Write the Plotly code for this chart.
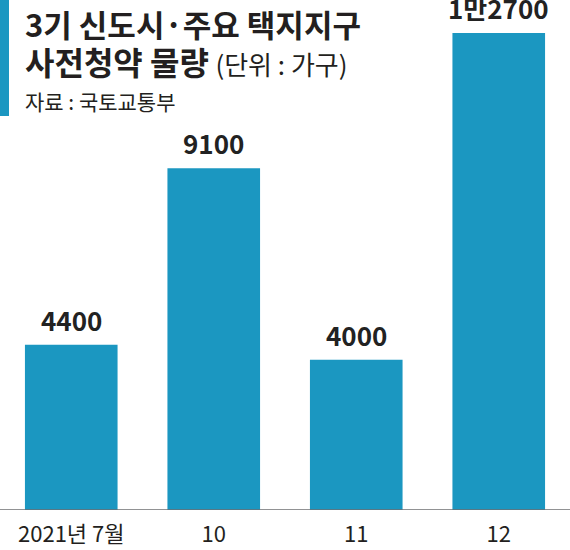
import plotly.graph_objects as go

categories = ["2021년 7월", "10", "11", "12"]
values = [4400, 9100, 4000, 12700]
value_labels = ["4400", "9100", "4000", "1만2700"]

BAR = "#1b97c1"
FONT = "Noto Sans CJK KR"
W, H = 570, 550
PLOT_H = 510

fig = go.Figure(go.Bar(
    x=categories, y=values, marker_color=BAR, width=0.65,
    marker_line_width=0, hoverinfo="skip"))

annotations = []
for i, (v, t) in enumerate(zip(values, value_labels)):
    annotations.append(dict(x=i, y=v, xref="x", yref="y", text=f"<b>{t}</b>",
                            showarrow=False, yanchor="bottom", yshift=5,
                            font=dict(family=FONT, size=26, color="#222222")))

def py(px):
    return 1 - px / PLOT_H

title_text = ("<span style='font-size:31px'><b>3기 신도시·주요 택지지구</b></span><br>"
              "<span style='font-size:32px'><b>사전청약 물량</b></span> "
              "<span style='font-size:26px'>(단위 : 가구)</span>")

annotations += [
    dict(x=23 / W, y=py(42), xref="paper", yref="paper", xanchor="left", yanchor="middle",
         text=title_text, showarrow=False, align="left",
         font=dict(family=FONT, size=29, color="#231f20")),
    dict(x=23 / W, y=py(101), xref="paper", yref="paper", xanchor="left", yanchor="middle",
         text="자료 : 국토교통부", showarrow=False,
         font=dict(family=FONT, size=21, color="#231f20")),
]

fig.update_layout(
    width=W, height=H,
    margin=dict(l=0, r=0, t=0, b=H - PLOT_H, autoexpand=False),
    paper_bgcolor="white", plot_bgcolor="white",
    showlegend=False,
    annotations=annotations,
    shapes=[dict(type="rect", xref="paper", yref="paper", x0=0, x1=9 / W,
                 y0=py(116), y1=1, fillcolor=BAR, line_width=0)],
    xaxis=dict(type="category", range=[-0.5, 3.5], showgrid=False, showline=False,
               ticks="", automargin=False, ticklabelstandoff=9,
               tickfont=dict(family=FONT, size=22, color="#231f20"), zeroline=False),
    yaxis=dict(range=[0, 12700 * PLOT_H / 477], visible=False, showgrid=False,
               automargin=False),
)
fig.add_shape(type="line", xref="paper", yref="y", x0=0, x1=1, y0=0, y1=0,
              line=dict(color="#6d6e71", width=1.5))

fig.write_html("out.html", config={"displayModeBar": False, "staticPlot": True},
               post_script="document.body.style.margin='0';")
